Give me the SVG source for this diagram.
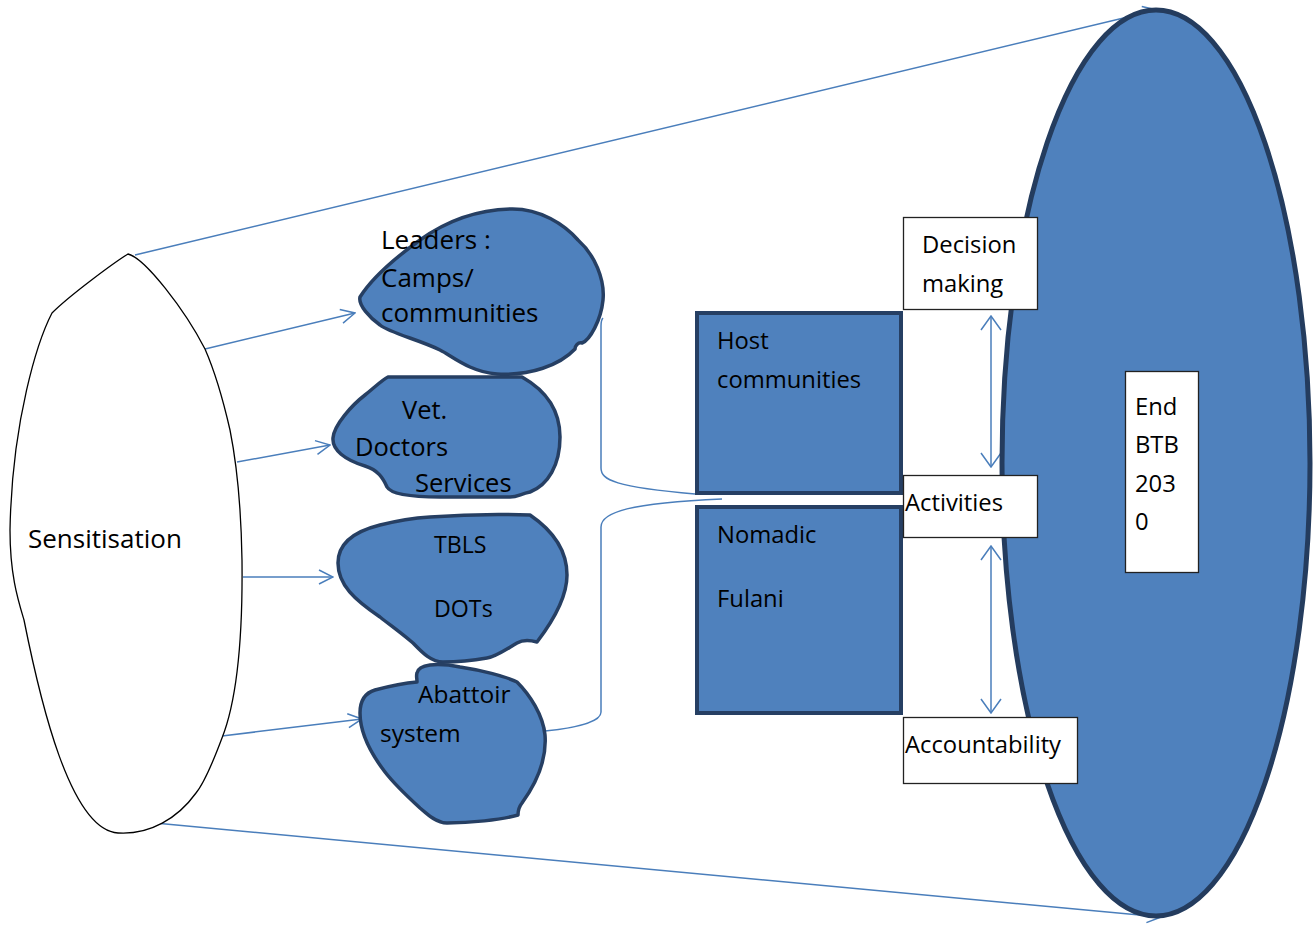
<svg xmlns="http://www.w3.org/2000/svg" width="1313" height="926" viewBox="0 0 1313 926">
<style>
.t{font-family:"Open Sans","Noto Sans",sans-serif;fill:#000}
.blob{fill:#4F81BD;stroke:#263F63;stroke-width:3.5;stroke-linejoin:round}
.box{fill:#4F81BD;stroke:#263F63;stroke-width:4}
.wbox{fill:#fff;stroke:#222;stroke-width:1.3}
.ln{fill:none;stroke:#4A7EBB;stroke-width:1.5}
</style>
<defs>
<marker id="arr" viewBox="0 0 16 16" refX="15" refY="8" markerWidth="16" markerHeight="16" markerUnits="userSpaceOnUse" orient="auto-start-reverse"><path d="M1,1 L15,8 L1,15" fill="none" stroke="#4A7EBB" stroke-width="1.5"/></marker>
<marker id="arr2" viewBox="0 0 16 22" refX="15" refY="11" markerWidth="16" markerHeight="22" markerUnits="userSpaceOnUse" orient="auto-start-reverse"><path d="M1,1 L15,11 L1,21" fill="none" stroke="#4A7EBB" stroke-width="1.5"/></marker>
</defs>
<rect width="1313" height="926" fill="#fff"/>
<g id="connectors">
<path class="ln" d="M135,255 L1157,10" marker-end="url(#arr)"/>
<path class="ln" d="M155,823 L1161,917" marker-end="url(#arr)"/>
<path class="ln" d="M205,349 L355,313" marker-end="url(#arr)"/>
<path class="ln" d="M237,462 L330,445" marker-end="url(#arr)"/>
<path class="ln" d="M243,577 L333,577" marker-end="url(#arr)"/>
<path class="ln" d="M222,736 L362,719" marker-end="url(#arr)"/>
<path class="ln" d="M603,318 C601,320 601,322 601,326 L601,468 C601,480 615,487 695,494"/>
<path class="ln" d="M545,731 C575,728 601,722 601,712 L601,527 C601,512 630,503 722,499"/>
<path class="ln" d="M991,316 L991,467" marker-start="url(#arr2)" marker-end="url(#arr2)"/>
<path class="ln" d="M991,546 L991,713" marker-start="url(#arr2)" marker-end="url(#arr2)"/>
</g>
<g id="endbtb-ellipse">
<ellipse cx="1156" cy="463" rx="154" ry="453" fill="#4F81BD" stroke="#243C5E" stroke-width="5"/>
</g>
<g id="sensitisation">
<path d="M128,254 C115,262 70,295 52,313 C38,340 12,420 10,530 C10,575 18,600 24,620 C40,700 70,830 118,833 C150,835 178,818 196,793 C205,782 213,762 222,738 C235,705 243,650 242,560 C241,500 236,460 230,430 C222,395 212,365 205,349 C185,310 145,258 128,254 Z" fill="#fff" stroke="#000" stroke-width="1.3"/>
<text class="t" x="28" y="548" font-size="26">Sensitisation</text>
</g>
<g id="leaders">
<path class="blob" d="M360,297 C372,278 395,258 420,240 C445,222 475,210 510,209 C540,208 565,225 578,240 C595,255 605,280 603,300 C601,320 590,340 582,343 C578,342 575,346 575,349 C560,365 530,376 497,374 C470,372 452,356 440,350 C420,340 390,333 380,325 C370,318 358,305 360,297 Z"/>
<text class="t" font-size="26"><tspan x="381" y="249">Leaders :</tspan><tspan x="381" y="287">Camps/</tspan><tspan x="381" y="322">communities</tspan></text>
</g>
<g id="vet">
<path class="blob" d="M388,377 L522,377 C545,390 560,410 560,437 C560,465 548,485 530,492 C520,494 518,497 510,497 L440,497 C420,497 392,496 387,487 C383,478 378,470 365,466 C345,460 332,450 333,438 C334,425 352,405 365,395 C375,387 382,380 388,377 Z"/>
<text class="t" font-size="25.5"><tspan x="402" y="419">Vet.</tspan><tspan x="355" y="456">Doctors</tspan><tspan x="415" y="492">Services</tspan></text>
</g>
<g id="tbls">
<path class="blob" d="M430,517 C470,514 500,514 530,515 C552,530 567,550 567,575 C567,600 550,625 537,642 C530,640 522,640 517,643 C505,650 495,657 487,658 C470,661 455,662 443,662 C430,662 420,650 413,643 C400,632 390,625 380,617 C355,600 338,585 338,563 C338,540 360,530 380,525 C400,520 415,518 430,517 Z"/>
<text class="t" font-size="23.2"><tspan x="434" y="553">TBLS</tspan><tspan x="434" y="617">DOTs</tspan></text>
</g>
<g id="abattoir">
<path class="blob" d="M417,673 C418,668 422,666 430,665 C440,664 450,665 460,667 C480,670 505,676 517,682 C530,695 543,715 545,735 C547,760 535,785 522,803 C518,808 518,815 518,815 C500,820 470,823 447,823 C435,823 425,812 420,808 C408,797 395,785 385,772 C372,755 360,735 360,713 C360,700 365,693 375,690 C390,686 405,683 417,682 C417,678 416,676 417,673 Z"/>
<text class="t" font-size="24.5"><tspan x="418" y="703">Abattoir</tspan><tspan x="380" y="742">system</tspan></text>
</g>
<g id="host">
<rect class="box" x="697" y="313" width="204" height="180"/>
<text class="t" font-size="23.8"><tspan x="717" y="349">Host</tspan><tspan x="717" y="388">communities</tspan></text>
</g>
<g id="nomadic">
<rect class="box" x="697" y="507" width="204" height="206"/>
<text class="t" font-size="23.8"><tspan x="717" y="543">Nomadic</tspan><tspan x="717" y="607">Fulani</tspan></text>
</g>
<g id="decision">
<rect class="wbox" x="903.5" y="217.5" width="134" height="92"/>
<text class="t" font-size="23.8"><tspan x="922" y="253">Decision</tspan><tspan x="922" y="292">making</tspan></text>
</g>
<g id="activities">
<rect class="wbox" x="903.5" y="475.5" width="134" height="62"/>
<text class="t" font-size="23.8" x="905" y="511">Activities</text>
</g>
<g id="accountability">
<rect class="wbox" x="903.5" y="717.5" width="174" height="66"/>
<text class="t" font-size="23.8" x="905" y="753">Accountability</text>
</g>
<g id="endbtb">
<rect class="wbox" x="1125.5" y="371.5" width="73" height="201"/>
<text class="t" font-size="23.8"><tspan x="1135" y="415">End</tspan><tspan x="1135" y="453">BTB</tspan><tspan x="1135" y="492">203</tspan><tspan x="1135" y="530">0</tspan></text>
</g>
</svg>
